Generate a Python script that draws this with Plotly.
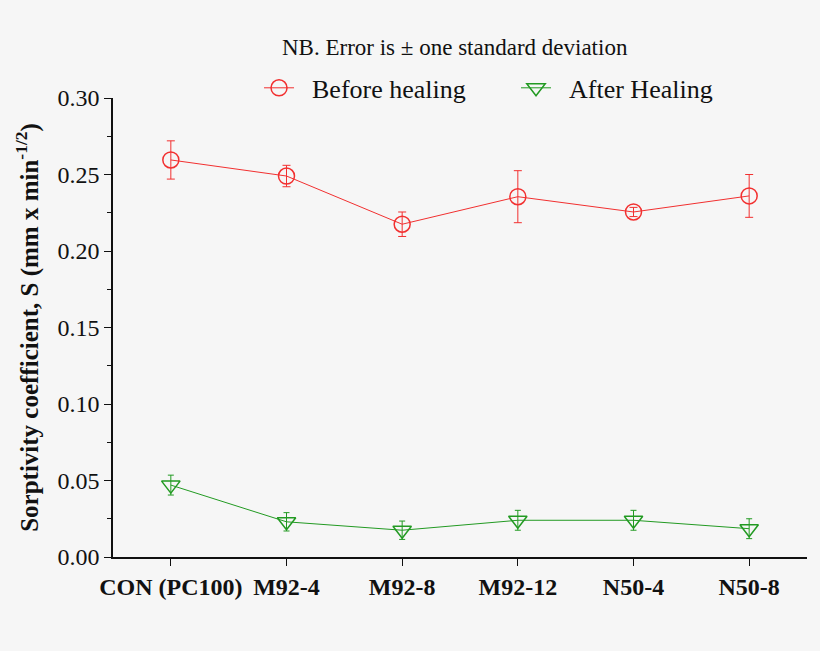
import plotly.graph_objects as go

categories = ["CON (PC100)", "M92-4", "M92-8", "M92-12", "N50-4", "N50-8"]
before_vals = [0.2595, 0.249, 0.2175, 0.2355, 0.2255, 0.236]
before_err = [0.0125, 0.007, 0.008, 0.017, 0.003, 0.014]
after_vals = [0.047, 0.023, 0.0175, 0.024, 0.024, 0.0185]
after_err = [0.0065, 0.006, 0.006, 0.0065, 0.0065, 0.0065]

RED = "#f23030"
GREEN = "#229a22"
FONT = "Liberation Serif, Times New Roman, serif"

fig = go.Figure()
fig.add_trace(go.Scatter(
    x=categories, y=before_vals, name="&nbsp;&nbsp;Before healing", mode="lines+markers",
    line=dict(color=RED, width=1), legend="legend",
    marker=dict(symbol="circle-open", size=16, color=RED, line=dict(width=1.5)),
    error_y=dict(type="data", array=before_err, color=RED, thickness=1, width=4),
))
fig.add_trace(go.Scatter(
    x=categories, y=after_vals, name="&nbsp;&nbsp;After Healing", mode="lines+markers",
    line=dict(color=GREEN, width=1), legend="legend2",
    marker=dict(symbol="triangle-down-open", size=16, color=GREEN, line=dict(width=1.5)),
    error_y=dict(type="data", array=after_err, color=GREEN, thickness=1, width=3),
))

leg_common = dict(orientation="h", y=1.022, xanchor="left", yanchor="middle",
                  font=dict(size=26, family=FONT), bgcolor="rgba(0,0,0,0)")

fig.update_layout(
    width=820, height=651,
    paper_bgcolor="#f6f6f6", plot_bgcolor="#f6f6f6",
    margin=dict(l=113, r=13, t=98, b=94),
    font=dict(family=FONT, color="#111", size=24),
    showlegend=True,
    legend=dict(x=0.2104, **leg_common),
    legend2=dict(x=0.5807, **leg_common),
    annotations=[dict(text="NB. Error is ± one standard deviation", xref="paper", yref="paper",
                      x=0.493, y=1.109, xanchor="center", yanchor="middle", showarrow=False,
                      font=dict(size=23, family=FONT, color="#111"))],
)
fig.update_xaxes(
    range=[-0.5, 5.5], showline=True, linecolor="#111", linewidth=1.5,
    ticks="outside", ticklen=7, tickcolor="#111", showgrid=False, zeroline=False,
    tickfont=dict(size=24, family=FONT, weight="bold"),
)
fig.update_yaxes(
    range=[0, 0.3], dtick=0.05, tickformat=".2f", showline=True, linecolor="#111", linewidth=1.5,
    ticks="outside", ticklen=7, tickcolor="#111", showgrid=False, zeroline=False,
    minor=dict(dtick=0.025, ticks="outside", ticklen=4, tickcolor="#111"),
    tickfont=dict(size=24, family=FONT),
    title=dict(text="Sorptivity coefficient, S (mm x min<sup>-1/2</sup>)",
               font=dict(size=25, family=FONT, weight="bold"), standoff=12),
)

fig.write_html("out.html", config={"displayModeBar": False},
               post_script="document.body.style.margin='0';document.body.style.background='#f6f6f6';")
